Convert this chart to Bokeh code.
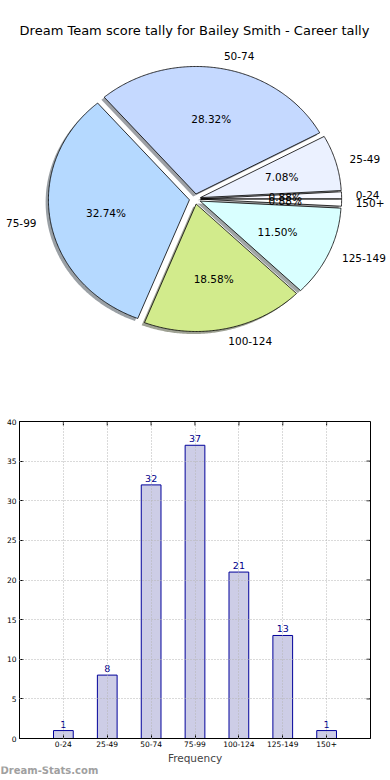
import numpy as np
from bokeh.plotting import figure
from bokeh.models import Range1d, FixedTicker, Label
from bokeh.layouts import column
from bokeh.embed import file_html
from bokeh.resources import INLINE
from bokeh.core.properties import value

# ---------------- data ----------------
categories = ["0-24", "25-49", "50-74", "75-99", "100-124", "125-149", "150+"]
counts = [1, 8, 32, 37, 21, 13, 1]
pie_colors = ["#f8f8ff", "#ebf1ff", "#c5d9ff", "#b5d9ff", "#d2eb8c", "#d9ffff", "#ffffff"]
y_ticks = [0, 5, 10, 15, 20, 25, 30, 35, 40]
title_text = "Dream Team score tally for Bailey Smith - Career tally"
x_label = "Frequency"
watermark = "Dream-Stats.com"

FONT = "DejaVu Sans"
W = 390
PIE_H = 400
BAR_H = 366
WM_H = 12

# ---------------- pie ----------------
cx_px, cy_px = 194.5, 198.5      # pie centre within the figure (from top-left)
rx_px, ry_px = 141.0, 127.5      # pixels per radius unit (elliptical pie)
explode = 0.04
shadow_off = 0.02

pie = figure(width=W, height=PIE_H, output_backend="svg", toolbar_location=None,
             x_range=Range1d(-cx_px / rx_px, (W - cx_px) / rx_px),
             y_range=Range1d(-(PIE_H - cy_px) / ry_px, cy_px / ry_px),
             min_border=0, outline_line_color=None, frame_align=False,
             x_axis_location=None, y_axis_location=None)
pie.grid.visible = False

vals = np.array(counts, dtype=float)
frac = vals / vals.sum()
edges = np.concatenate([[0.0], np.cumsum(frac)]) * 2 * np.pi

def shade(c):
    c = c.lstrip("#")
    r, g, b = (int(c[i:i + 2], 16) for i in (0, 2, 4))
    return "#%02x%02x%02x" % (int(r * 0.3), int(g * 0.3), int(b * 0.3))

wx, wy, sx, sy = [], [], [], []
lx_l, ly_l, lt_l, lx_r, ly_r, lt_r = [], [], [], [], [], []
px_, py_, pt_ = [], [], []
for i, cat in enumerate(categories):
    a0, a1 = edges[i], edges[i + 1]
    mid = 0.5 * (a0 + a1)
    ox, oy = explode * np.cos(mid), explode * np.sin(mid)
    n = max(int((a1 - a0) / 0.01), 2) + 1
    t = np.linspace(a0, a1, n)
    xs = np.concatenate([[ox], ox + np.cos(t), [ox]])
    ys = np.concatenate([[oy], oy + np.sin(t), [oy]])
    wx.append(xs); wy.append(ys)
    sx.append(xs - shadow_off); sy.append(ys - shadow_off)
    lx = ox + 1.1 * np.cos(mid)
    ly = oy + 1.1 * np.sin(mid)
    if lx > 0:
        lx_l.append(lx); ly_l.append(ly); lt_l.append(cat)
    else:
        lx_r.append(lx); ly_r.append(ly); lt_r.append(cat)
    px_.append(ox + 0.6 * np.cos(mid)); py_.append(oy + 0.6 * np.sin(mid))
    pt_.append("%.2f%%" % (100 * frac[i]))

pie.patches(xs=sx, ys=sy, fill_color=[shade(c) for c in pie_colors], fill_alpha=0.5,
            line_color=None)
pie.patches(xs=wx, ys=wy, fill_color=pie_colors, line_color="black", line_width=0.8)

txt = dict(text_font=value(FONT), text_font_size="10.5px", text_color="black",
           text_baseline="middle")
pie.text(x=lx_l, y=ly_l, text=lt_l, text_align="left", **txt)
pie.text(x=lx_r, y=ly_r, text=lt_r, text_align="right", **txt)
pie.text(x=px_, y=py_, text=pt_, text_align="center", **txt)

pie.add_layout(Label(x=194, y=PIE_H - 30, x_units="screen", y_units="screen",
                     text=title_text, text_align="center", text_baseline="middle",
                     text_font=FONT, text_font_size="13px", text_color="black"))

# ---------------- bar ----------------
xpos = list(range(len(categories)))
bar = figure(width=W, height=BAR_H, output_backend="svg", toolbar_location=None,
             x_range=Range1d(-1, 7), y_range=Range1d(0, 40), frame_align=False,
             min_border_left=19, min_border_right=20, min_border_top=21,
             min_border_bottom=BAR_H - 340, outline_line_color="black",
             outline_line_width=1)

bar.vbar(x=xpos, top=counts, width=0.45, fill_color="#cdcde6",
         line_color="#00009a", line_width=1)
bar.text(x=xpos, y=counts, text=[str(c) for c in counts], text_align="center",
         text_baseline="bottom", y_offset=-3, text_font=value(FONT),
         text_font_size="9.5px", text_color="#00008b")

bar.xaxis.ticker = FixedTicker(ticks=xpos)
bar.xaxis.major_label_overrides = {i: c for i, c in enumerate(categories)}
bar.yaxis.ticker = FixedTicker(ticks=y_ticks)
for ax in (bar.xaxis, bar.yaxis):
    ax.major_tick_in = 4
    ax.major_tick_out = 0
    ax.minor_tick_line_color = None
    ax.major_tick_line_color = "black"
    ax.axis_line_color = "black"
    ax.major_label_text_font = FONT
    ax.major_label_text_font_size = "7.5px"
    ax.major_label_text_color = "black"
    ax.major_label_standoff = 3
bar.xaxis.major_label_standoff = 2
bar.xaxis.axis_label = x_label
bar.xaxis.axis_label_text_font = FONT
bar.xaxis.axis_label_text_font_style = "normal"
bar.xaxis.axis_label_text_font_size = "10.5px"
bar.xaxis.axis_label_standoff = 2

# mirrored inward ticks on the top and right edges
bar.ray(x=xpos, y=[bar.y_range.end] * len(xpos), length=4, length_units="screen",
        angle=-np.pi / 2, line_color="black", line_width=1)
bar.ray(x=[bar.x_range.end] * len(y_ticks), y=y_ticks, length=4, length_units="screen",
        angle=np.pi, line_color="black", line_width=1)

for g in (bar.xgrid, bar.ygrid):
    g.grid_line_color = "#b4b4b4"
    g.grid_line_dash = "1 2"
    g.grid_line_width = 1
    g.level = "annotation"

# ---------------- watermark strip ----------------
wm = figure(width=W, height=WM_H, output_backend="svg", toolbar_location=None,
            x_range=Range1d(0, 1), y_range=Range1d(0, 1), min_border=0,
            outline_line_color=None, frame_align=False,
            x_axis_location=None, y_axis_location=None)
wm.grid.visible = False
wm.add_layout(Label(x=0, y=WM_H - 4, x_units="screen", y_units="screen",
                    text=watermark, text_align="left", text_baseline="middle",
                    text_font=FONT, text_font_style="bold", text_font_size="10px",
                    text_color="#a0a0a0"))

layout = column(pie, bar, wm)
open("out.html", "w").write(file_html(layout, INLINE))
